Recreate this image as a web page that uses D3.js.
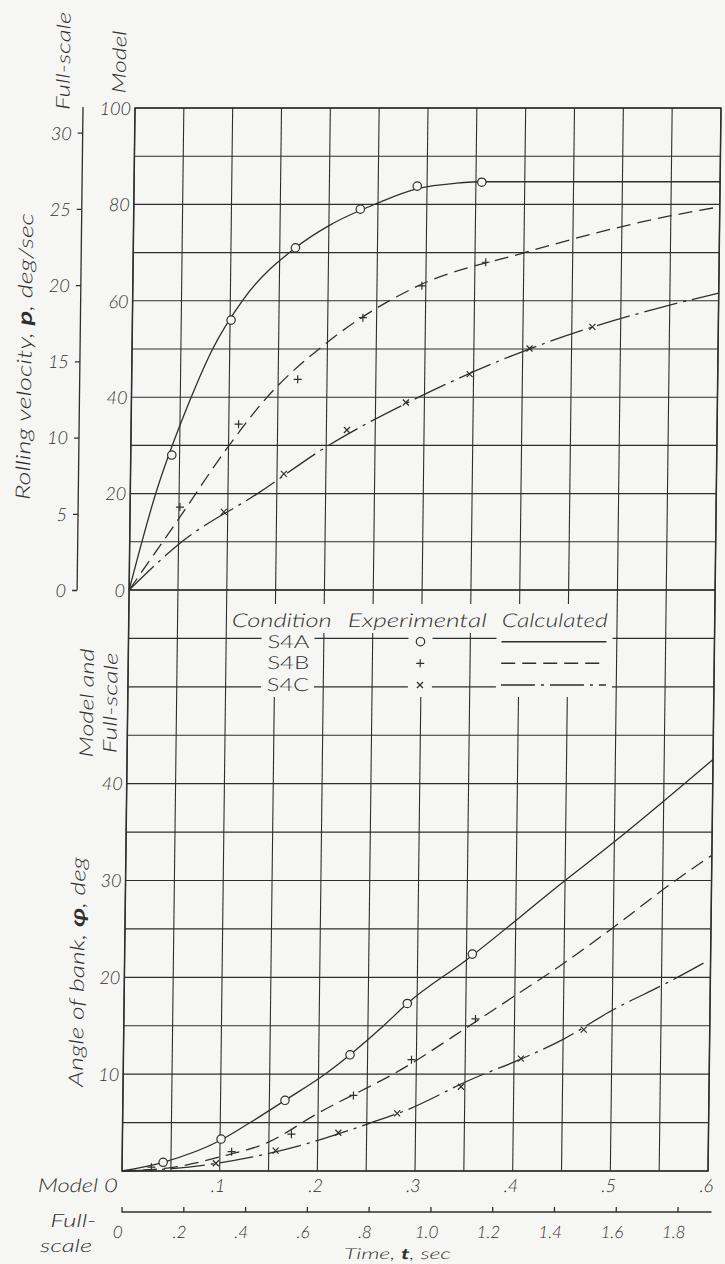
<!DOCTYPE html>
<html>
<head>
<meta charset="utf-8">
<script src="https://cdn.jsdelivr.net/npm/d3@7"></script>
<style>
    body { margin: 0; background: #f6f6f4; }
    text { font-family: Lato, "DejaVu Sans", sans-serif; font-style: italic; font-weight: 300; fill: #303030; }
</style>
</head>
<body>
<svg id="chart" width="725" height="1264"></svg>
<script>
// ---- tick values ----
const velModelTicks = [0, 20, 40, 60, 80, 100];
const velFullTicks = [0, 5, 10, 15, 20, 25, 30];
const bankTicks = [10, 20, 30, 40];
const timeModelTicks = [0, 0.1, 0.2, 0.3, 0.4, 0.5, 0.6];
const timeFullTicks = [0, 0.2, 0.4, 0.6, 0.8, 1.0, 1.2, 1.4, 1.6, 1.8];

// ---- experimental points (model time, sec) ----
const s4aTime = [0.042, 0.101, 0.166, 0.232, 0.290, 0.356];
const s4aRoll = [28.0, 56.0, 71.0, 79.0, 83.8, 84.6];
const s4aBank = [0.9, 3.3, 7.3, 12.0, 17.3, 22.4];

const s4bTimeRoll = [0.051, 0.110, 0.170, 0.236, 0.296, 0.361];
const s4bRoll = [17.2, 34.4, 43.7, 56.5, 63.1, 68.0];
const s4bTimeBank = [0.030, 0.112, 0.173, 0.236, 0.295, 0.360];
const s4bBank = [0.4, 2.0, 3.8, 7.8, 11.5, 15.7];

const s4cTime = [0.096, 0.157, 0.221, 0.281, 0.346, 0.407, 0.471];
const s4cRoll = [16.2, 24.1, 33.2, 38.9, 44.8, 50.1, 54.6];
const s4cBank = [0.8, 2.1, 3.95, 5.95, 8.7, 11.6, 14.6];

// ---- calculated curves [t, value] ----
const calcS4aRoll = [[0, 0], [0.025, 19.3], [0.06, 39.4], [0.082, 49.8], [0.113, 60.2], [0.166, 71.0],
    [0.201, 75.7], [0.249, 80.2], [0.291, 83.3], [0.33, 84.4], [0.36, 84.7], [0.6, 84.7]];
const calcS4bRoll = [[0, 0], [0.051, 15.1], [0.0995, 29.7], [0.138, 39.8], [0.2, 51.4], [0.29, 62.9],
    [0.399, 69.9], [0.549, 77.6], [0.6, 79.5]];
const calcS4cRoll = [[0, 0], [0.0515, 9.7], [0.131, 20.1], [0.2, 29.7], [0.292, 39.8], [0.408, 50.1],
    [0.472, 54.6], [0.55, 59.1], [0.6, 61.6]];

const calcS4aBank = [[0, 0], [0.042, 0.9], [0.101, 3.2], [0.129, 4.9], [0.166, 7.3], [0.208, 10.1],
    [0.266, 15.0], [0.29, 17.3], [0.35, 21.8], [0.45, 30.0], [0.5, 34.0], [0.6, 42.5]];
const calcS4bBank = [[0, 0], [0.05, 0.35], [0.1, 1.45], [0.15, 3.0], [0.197, 5.8], [0.29, 10.8],
    [0.351, 14.8], [0.4, 18.1], [0.449, 21.4], [0.498, 25.0], [0.559, 29.7], [0.6, 32.6]];
const calcS4cBank = [[0, 0], [0.0515, 0.25], [0.131, 1.4], [0.2, 3.15], [0.252, 4.9], [0.292, 6.35],
    [0.355, 9.4], [0.408, 11.6], [0.45, 13.6], [0.5, 16.6], [0.557, 19.5], [0.595, 21.6]];

const legendRows = ["S4A", "S4B", "S4C"];

// ---- layout ----
const plotLeft = 122, plotRight = 708, plotTop = 108, plotMid = 590, plotBottom = 1171;
const ink = "#2e2e2e";
const bg = "#f6f6f4";

const x = d3.scaleLinear().domain([0, 0.6]).range([plotLeft, plotRight]);
const xFull = d3.scaleLinear().domain([0, 0.6 * 3.162]).range([plotLeft, plotRight]);
const yRoll = d3.scaleLinear().domain([0, 100]).range([plotMid, plotTop]);
const yRollFull = d3.scaleLinear().domain([0, 31.62]).range([plotMid, plotTop]);
const yBank = d3.scaleLinear().domain([0, 60]).range([plotBottom, plotMid]);

const svg = d3.select("#chart");
svg.append("rect").attr("width", 725).attr("height", 1264).attr("fill", bg);

// the scan is slightly sheared; everything is drawn in a sheared group
const g = svg.append("g").attr("transform", "translate(14.32,0) skewX(-0.7)");

// grid
const grid = g.append("g").attr("stroke", ink).attr("stroke-width", 1.1);
grid.selectAll(".vg")
    .data(d3.range(0, 0.6001, 0.05))
    .join("line")
    .attr("x1", d => x(d)).attr("x2", d => x(d))
    .attr("y1", plotTop).attr("y2", plotBottom);
grid.selectAll(".hr")
    .data(d3.range(10, 100.1, 10))
    .join("line")
    .attr("x1", plotLeft).attr("x2", plotRight)
    .attr("y1", d => yRoll(d)).attr("y2", d => yRoll(d));
grid.selectAll(".hb")
    .data(d3.range(0, 60.1, 5))
    .join("line")
    .attr("x1", plotLeft).attr("x2", plotRight)
    .attr("y1", d => yBank(d)).attr("y2", d => yBank(d));

// heavier frame lines
g.append("rect")
    .attr("x", plotLeft).attr("y", plotTop)
    .attr("width", plotRight - plotLeft).attr("height", plotBottom - plotTop)
    .attr("fill", "none").attr("stroke", ink).attr("stroke-width", 1.5);
g.append("line")
    .attr("x1", plotLeft).attr("x2", plotRight).attr("y1", plotMid).attr("y2", plotMid)
    .attr("stroke", ink).attr("stroke-width", 1.6);

// ---- legend (patches of paper break the grid) ----
const patches = [[221, 604, 385, 29], [255, 633, 53, 64], [402, 633, 24, 64], [490, 633, 116, 64]];
g.selectAll(".patch")
    .data(patches)
    .join("rect")
    .attr("x", d => d[0]).attr("y", d => d[1])
    .attr("width", d => d[2]).attr("height", d => d[3])
    .attr("fill", bg);

const legendHead = [["Condition", 225, 100], ["Experimental", 341, 139], ["Calculated", 495, 106]];
g.selectAll(".lh")
    .data(legendHead)
    .join("text")
    .attr("x", d => d[1]).attr("y", 627)
    .attr("textLength", d => d[2]).attr("lengthAdjust", "spacingAndGlyphs")
    .style("font-size", "19px")
    .text(d => d[0]);

const legendY = [641.7, 663.3, 685];
g.selectAll(".lc")
    .data(legendRows)
    .join("text")
    .attr("x", 261).attr("y", (d, i) => legendY[i] + 6)
    .attr("textLength", 42).attr("lengthAdjust", "spacingAndGlyphs")
    .style("font-size", "18px").style("font-style", "normal")
    .text(d => d);

// ---- curves ----
const dashes = ["none", "14,7", "34,6,3,6"];

function drawCurve(data, yScale, dash)
{
    const line = d3.line()
        .x(d => x(d[0]))
        .y(d => yScale(d[1]))
        .curve(d3.curveMonotoneX);
    g.append("path")
        .datum(data)
        .attr("d", line)
        .attr("fill", "none")
        .attr("stroke", ink)
        .attr("stroke-width", 1.3)
        .attr("stroke-dasharray", dash);
}

drawCurve(calcS4aRoll, yRoll, dashes[0]);
drawCurve(calcS4bRoll, yRoll, dashes[1]);
drawCurve(calcS4cRoll, yRoll, dashes[2]);
drawCurve(calcS4aBank, yBank, dashes[0]);
drawCurve(calcS4bBank, yBank, dashes[1]);
drawCurve(calcS4cBank, yBank, dashes[2]);

// legend line samples
g.selectAll(".ll")
    .data(legendRows)
    .join("line")
    .attr("x1", 495).attr("x2", 600)
    .attr("y1", (d, i) => legendY[i]).attr("y2", (d, i) => legendY[i])
    .attr("stroke", ink).attr("stroke-width", 1.4)
    .attr("stroke-dasharray", (d, i) => dashes[i]);

// ---- markers ----
function circleMark(cx, cy)
{
    g.append("circle").attr("cx", cx).attr("cy", cy).attr("r", 4.2)
        .attr("fill", bg).attr("stroke", ink).attr("stroke-width", 1.2);
}
function plusMark(cx, cy)
{
    g.append("path").attr("d", `M${cx - 4},${cy}H${cx + 4}M${cx},${cy - 4}V${cy + 4}`)
        .attr("stroke", ink).attr("stroke-width", 1.2);
}
function crossMark(cx, cy)
{
    g.append("path").attr("d", `M${cx - 3},${cy - 3}L${cx + 3},${cy + 3}M${cx - 3},${cy + 3}L${cx + 3},${cy - 3}`)
        .attr("stroke", ink).attr("stroke-width", 1.2);
}

s4aTime.forEach((t, i) => { circleMark(x(t), yRoll(s4aRoll[i])); circleMark(x(t), yBank(s4aBank[i])); });
s4bTimeRoll.forEach((t, i) => plusMark(x(t), yRoll(s4bRoll[i])));
s4bTimeBank.forEach((t, i) => plusMark(x(t), yBank(s4bBank[i])));
s4cTime.forEach((t, i) => { crossMark(x(t), yRoll(s4cRoll[i])); crossMark(x(t), yBank(s4cBank[i])); });

circleMark(414, legendY[0]);
plusMark(414, legendY[1]);
crossMark(414, legendY[2]);

// ---- axes ----
const axisFont = "18px";

// model rolling velocity labels
g.append("g")
    .attr("transform", `translate(${plotLeft},0)`)
    .call(d3.axisLeft(yRoll).tickValues(velModelTicks).tickSize(0).tickPadding(4))
    .call(a => a.select(".domain").remove())
    .selectAll("text").style("font-size", axisFont).attr("dy", "0.35em");

// full-scale rolling velocity axis
const fullAxis = g.append("g")
    .attr("transform", "translate(70,0)")
    .call(d3.axisLeft(yRollFull).tickValues(velFullTicks).tickSize(5).tickPadding(6));
fullAxis.select(".domain").attr("d", `M0,${plotTop - 1}V${plotMid}`).attr("stroke", ink).attr("stroke-width", 1.3);
fullAxis.selectAll("line").attr("stroke", ink).attr("stroke-width", 1.3);
fullAxis.selectAll("text").style("font-size", axisFont).attr("dy", "0.35em");

// bank angle labels
g.append("g")
    .attr("transform", `translate(${plotLeft},0)`)
    .call(d3.axisLeft(yBank).tickValues(bankTicks).tickSize(0).tickPadding(4))
    .call(a => a.select(".domain").remove())
    .selectAll("text").style("font-size", axisFont).attr("dy", "0.35em");

// model time labels
g.append("g")
    .attr("transform", `translate(-2,${plotBottom})`)
    .call(d3.axisBottom(x).tickValues(timeModelTicks).tickSize(0).tickPadding(0)
        .tickFormat(d => d === 0 ? "" : d3.format(".1f")(d).replace(/^0/, "")))
    .call(a => a.select(".domain").remove())
    .selectAll("text").style("font-size", axisFont).attr("y", 21).attr("dy", 0);

g.append("text").attr("x", 118).attr("y", 1192).attr("text-anchor", "end")
    .attr("textLength", 80).attr("lengthAdjust", "spacingAndGlyphs")
    .style("font-size", "19px").text("Model 0");

// full-scale time axis
const timeAxis = g.append("g")
    .attr("transform", `translate(0,1212)`)
    .call(d3.axisBottom(xFull).tickValues(timeFullTicks).tickSizeInner(-5).tickSizeOuter(0)
        .tickFormat(d => d === 0 ? "0" : d < 1 ? d3.format(".1f")(d).replace(/^0/, "") : d3.format(".1f")(d)));
timeAxis.select(".domain").attr("d", `M${plotLeft},0H712`).attr("stroke", ink).attr("stroke-width", 1.3);
timeAxis.selectAll("line").attr("stroke", ink).attr("stroke-width", 1.3);
timeAxis.selectAll("text").style("font-size", "17px").attr("y", 26).attr("dy", 0).attr("x", -4);

g.append("text").attr("x", 97).attr("y", 1227).attr("text-anchor", "end")
    .attr("textLength", 46).attr("lengthAdjust", "spacingAndGlyphs")
    .style("font-size", "18px").text("Full-");
g.append("text").attr("x", 93).attr("y", 1252).attr("text-anchor", "end")
    .attr("textLength", 52).attr("lengthAdjust", "spacingAndGlyphs")
    .style("font-size", "18px").text("scale");

const timeTitle = g.append("text").attr("x", 345).attr("y", 1259)
    .attr("textLength", 107).attr("lengthAdjust", "spacingAndGlyphs")
    .style("font-size", "15px");
timeTitle.append("tspan").text("Time, ");
timeTitle.append("tspan").style("font-weight", "bold").text("t");
timeTitle.append("tspan").text(", sec");

// ---- rotated titles ----
function vText(cx, cy, len, size)
{
    return g.append("text")
        .attr("transform", `translate(${cx},${cy}) rotate(-90)`)
        .attr("text-anchor", "middle")
        .attr("textLength", len).attr("lengthAdjust", "spacingAndGlyphs")
        .style("font-size", size);
}

vText(56.4, 61, 98, "19px").text("Full-scale");
vText(112.4, 62, 63, "19px").text("Model");

const rollTitle = vText(21.5, 356.5, 287, "20px");
rollTitle.append("tspan").text("Rolling velocity, ");
rollTitle.append("tspan").style("font-weight", "bold").text("p");
rollTitle.append("tspan").text(", deg/sec");

vText(87.6, 703, 109, "19px").text("Model and");
vText(111.3, 703, 101, "19px").text("Full-scale");

const bankTitle = vText(81.6, 972, 230, "20px");
bankTitle.append("tspan").text("Angle of bank, ");
bankTitle.append("tspan").style("font-weight", "bold").text("\u03c6");
bankTitle.append("tspan").text(", deg");
</script>
</body>
</html>
